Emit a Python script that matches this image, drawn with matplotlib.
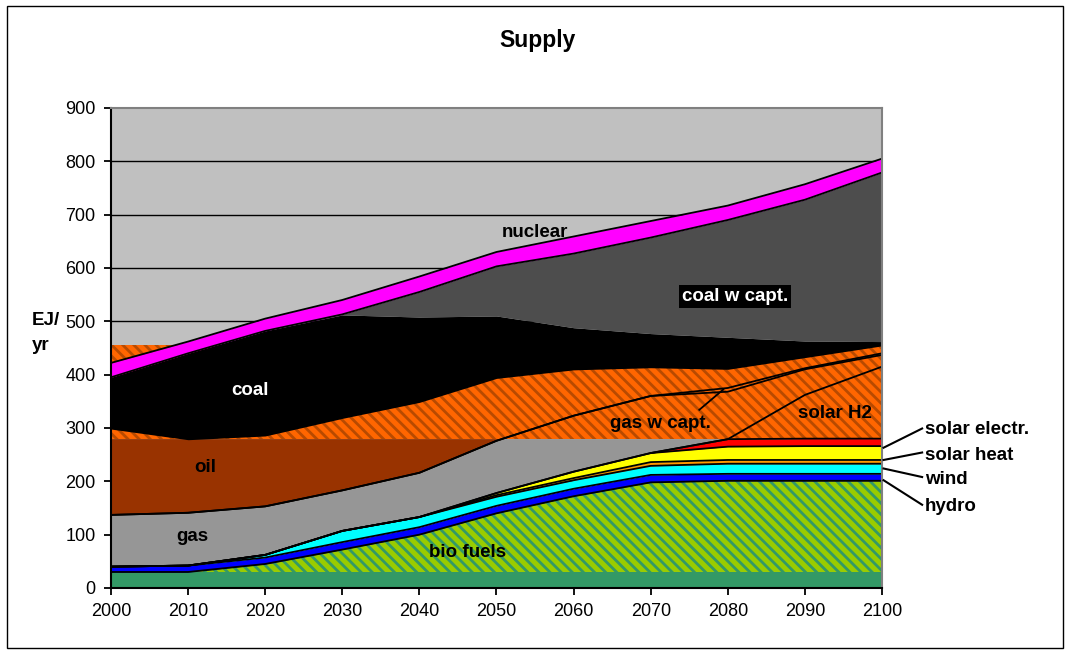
import matplotlib.pyplot as plt
import numpy as np
from matplotlib.patches import Rectangle

plt.rcParams['font.family'] = ['Liberation Sans', 'DejaVu Sans']
plt.rcParams['hatch.linewidth'] = 2.0

years = np.arange(2000, 2101, 10)

# cumulative tops of the stacked layers (EJ/yr)
trad_bio   = np.array([30] * 11)
bio_fuels  = np.array([30, 30, 45, 72, 100, 140, 172, 198, 201, 201, 201])
hydro      = np.array([40, 42, 57, 86, 114, 154, 186, 212, 214, 214, 214])
wind       = np.array([40, 42, 62, 107, 133, 171, 202, 229, 233, 233, 233])
other      = np.array([40, 42, 62, 107, 133, 174, 206, 236, 240, 240, 240])
solar_heat = np.array([40, 42, 62, 107, 133, 178, 218, 253, 265, 266, 266])
solar_el   = np.array([40, 42, 62, 107, 133, 178, 218, 253, 279, 280, 280])
solar_h2   = np.array([40, 42, 62, 107, 133, 178, 218, 253, 279, 362, 415])
gas        = np.array([137, 141, 153, 183, 216, 276, 323, 360, 368, 410, 437])
gas_capt   = np.array([137, 141, 153, 183, 216, 276, 323, 360, 375, 412, 440])
oil_top    = 280
band_top   = 455
coal_low   = np.array([298, 278, 285, 318, 348, 393, 409, 413, 410, 432, 454])
coal       = np.array([395, 440, 482, 512, 508, 510, 488, 477, 470, 463, 462])
coal_capt  = np.array([395, 440, 482, 513, 555, 603, 627, 657, 690, 728, 779])
nuclear    = np.array([422, 462, 505, 540, 584, 630, 659, 688, 717, 757, 805])

fig = plt.figure(figsize=(10.69, 6.52), dpi=100)
ax = fig.add_axes([0.1038, 0.0982, 0.7213, 0.7362])
ax.set_facecolor('#C0C0C0')

for g in range(100, 900, 100):
    ax.axhline(g, color='k', lw=1.0, zorder=0.5)

# hatched orange band (shows through wherever nothing is drawn on top)
ax.fill_between(years, oil_top, band_top, facecolor='#FF6600', edgecolor='#B84A00',
                hatch='\\\\\\', linewidth=0, zorder=1)

# renewables
ax.fill_between(years, 0, trad_bio, color='#339966', linewidth=0, zorder=2)
ax.fill_between(years, trad_bio, bio_fuels, facecolor='#99CC00', edgecolor='#339966',
                hatch='\\\\\\', linewidth=0, zorder=2)
ax.fill_between(years, bio_fuels, hydro, color='#0000FF', linewidth=0, zorder=2)
ax.fill_between(years, hydro, wind, color='#00FFFF', linewidth=0, zorder=2)
ax.fill_between(years, wind, other, color='#FF9900', linewidth=0, zorder=2)
ax.fill_between(years, other, solar_heat, color='#FFFF00', linewidth=0, zorder=2)
ax.fill_between(years, solar_heat, solar_el, color='#FF0000', linewidth=0, zorder=2)

# gas and oil (below the band)
ax.fill_between(years, solar_el, oil_top, color='#969696', linewidth=0, zorder=2)
ax.fill_between(years, gas, oil_top, where=gas < oil_top, interpolate=True,
                color='#993300', linewidth=0, zorder=2.1)

# coal, coal with capture, nuclear
ax.fill_between(years, coal_low, coal, color='k', linewidth=0, zorder=2.2)
ax.fill_between(years, coal, coal_capt, color='#4D4D4D', linewidth=0, zorder=2.2)
ax.fill_between(years, coal_capt, nuclear, color='#FF00FF', linewidth=0, zorder=2.2)

for top in [bio_fuels, hydro, wind, other, solar_heat, solar_el, gas, gas_capt,
            coal_capt, nuclear]:
    ax.plot(years, top, color='k', lw=1.3, zorder=3)
ax.plot(years[7:], solar_h2[7:], color='k', lw=1.3, zorder=3)

ax.set_xlim(2000, 2100)
ax.set_ylim(0, 900)
ax.set_xticks(years)
ax.set_yticks(range(0, 901, 100))
ax.tick_params(direction='out', length=5, width=1.3, labelsize=13, pad=6)
for s in ['left', 'bottom']:
    ax.spines[s].set_linewidth(1.5)
for s in ['top', 'right']:
    ax.spines[s].set_color('#808080')
    ax.spines[s].set_linewidth(1.5)
for s in ax.spines.values():
    s.set_zorder(4)

bold = dict(fontsize=13.5, fontweight='bold', ha='center', va='center', zorder=5)
ax.text(2055.0, 667, 'nuclear', color='k', **bold)
ax.text(2080.9, 547, 'coal w capt.', color='w',
        bbox=dict(facecolor='k', edgecolor='none', pad=2), **bold)
ax.text(2018.0, 371, 'coal', color='w', **bold)
ax.text(2012.2, 225, 'oil', color='k', **bold)
ax.text(2010.6, 96, 'gas', color='k', **bold)
ax.text(2046.3, 66, 'bio fuels', color='k', **bold)
ax.text(2071.2, 309, 'gas w capt.', color='k', **bold)
ax.text(2093.9, 328, 'solar H2', color='k', **bold)
ax.plot([2076.3, 2079.4], [334, 372], color='k', lw=1.3, zorder=3)

# labels to the right of the plot
side = [('solar electr.', 263, 299, 298),
        ('solar heat', 240, 254, 249),
        ('wind', 224, 208, 204),
        ('hydro', 202, 156, 152)]
for name, y0, y1, yt in side:
    ax.plot([2100.2, 2105.2], [y0, y1], color='k', lw=1.5, clip_on=False, zorder=5)
    ax.text(2105.6, yt, name, fontsize=13.5, fontweight='bold', ha='left',
            va='center', clip_on=False)

fig.text(538 / 1069, 1 - 40 / 652, 'Supply', fontsize=16.5, fontweight='bold',
         ha='center', va='center')
fig.text(32 / 1069, 1 - 320 / 652, 'EJ/', fontsize=13.5, fontweight='bold', va='center')
fig.text(32 / 1069, 1 - 345 / 652, 'yr', fontsize=13.5, fontweight='bold', va='center')

fig.patches.append(Rectangle((7 / 1069, 4 / 652), 1056 / 1069, 642 / 652,
                             transform=fig.transFigure, fill=False,
                             edgecolor='k', lw=1.0))

fig.savefig('out.png', dpi=100)
